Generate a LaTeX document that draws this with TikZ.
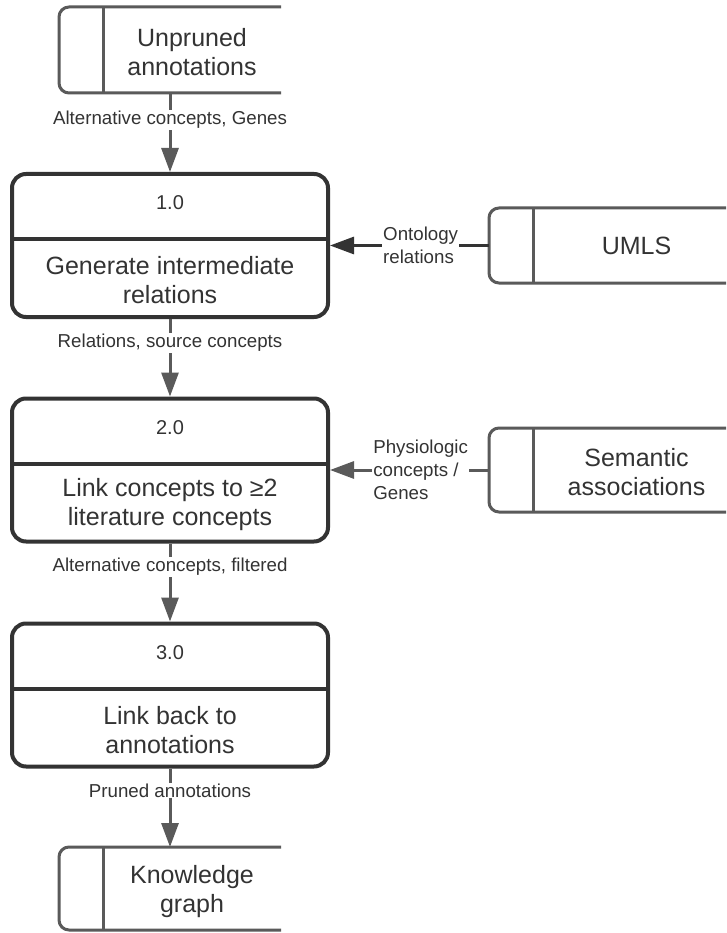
\documentclass[tikz,border=0pt]{standalone}
\usepackage{fontspec}
\setmainfont{Liberation Sans}
\usetikzlibrary{arrows.meta,calc}

\definecolor{ink}{HTML}{333333}
\definecolor{wire}{HTML}{5A5A5A}

\tikzset{
  procbox/.style={draw=ink, line width=4pt, rounded corners=14pt, fill=white,
    minimum width=316pt, minimum height=143pt, inner sep=0pt},
  procdiv/.style={draw=ink, line width=4pt},
  storespot/.style={inner sep=0pt, outer sep=0pt, minimum width=#1},
  storeline/.style={draw=wire, line width=3pt, rounded corners=10pt},
  bigtext/.style={text=ink, align=center, inner sep=0pt,
    font=\fontsize{25}{29}\selectfont},
  numtext/.style={text=ink, inner sep=0pt, font=\fontsize{20}{24}\selectfont},
  flow/.style={draw=wire, line width=3pt,
    -{Triangle[length=24pt,width=17pt]}},
  flowdark/.style={flow, draw=ink},
  lab/.style={fill=white, text=ink, inner sep=1pt,
    font=\fontsize{18.7}{22}\selectfont},
  sidelab/.style={lab, align=left, font=\fontsize{18.7}{23}\selectfont},
}

% data store: open on the right, rounded on the left, with a side stripe
\newcommand\storeoutline[1]{%
  \draw[storeline] (#1.north east) -- (#1.north west) -- (#1.south west) -- (#1.south east);
  \draw[storeline] ($(#1.north west)+(44,0)$) -- ($(#1.south west)+(44,0)$);
}

\begin{document}
\begin{tikzpicture}[x=1pt,y=-1pt]
  \clip (0,0) rectangle (726,933);
  \fill[white] (0,0) rectangle (726,933);

  % external stores
  \node[storespot=222pt, minimum height=86pt] (src) at (170,50) {};
  \node[storespot=222pt, minimum height=83pt] (kg) at (170,888.5) {};
  \node[storespot=251pt, minimum height=75pt] (umls) at (614.5,245.5) {};
  \node[storespot=251pt, minimum height=84pt] (sem) at (614.5,470) {};
  \storeoutline{src}
  \storeoutline{kg}
  \storeoutline{umls}
  \storeoutline{sem}
  \node[bigtext] (srctxt) at ($(src.center)+(22,2)$) {Unpruned\\annotations};
  \node[bigtext] (kgtxt) at ($(kg.center)+(22,3)$) {Knowledge\\graph};
  \node[bigtext] (umlstxt) at ($(umls.center)+(22,0)$) {UMLS};
  \node[bigtext] (semtxt) at ($(sem.center)+(22,2.5)$) {Semantic\\associations};

  % processes
  \node[procbox] (p1) at (170,245.5) {};
  \node[procbox] (p2) at (170,470) {};
  \node[procbox] (p3) at (170,695) {};
  \foreach \p in {p1,p2,p3}
    \draw[procdiv] ($(\p.north west)+(0,67)$) -- ($(\p.north east)+(0,67)$);

  \node[numtext] (p1num) at ($(p1.north)+(0,31)$) {1.0};
  \node[numtext] (p2num) at ($(p2.north)+(0,31)$) {2.0};
  \node[numtext] (p3num) at ($(p3.north)+(0,31)$) {3.0};
  \node[bigtext] (p1txt) at ($(p1.north)+(0,108.5)$) {Generate intermediate\\relations};
  \node[bigtext] (p2txt) at ($(p2.north)+(0,108.5)$) {Link concepts to ≥2\\literature concepts};
  \node[bigtext] (p3txt) at ($(p3.north)+(0,108.5)$) {Link back to\\annotations};

  % data flows
  \draw[flow] (src.south) -- (p1.north)
    node[lab, pos=0.34] {Alternative concepts, Genes};
  \draw[flow] (p1.south) -- (p2.north)
    node[lab, pos=0.31] {Relations, source concepts};
  \draw[flow] (p2.south) -- (p3.north)
    node[lab, pos=0.30] {Alternative concepts, filtered};
  \draw[flow] (p3.south) -- (kg.north)
    node[lab, pos=0.28] {Pruned annotations};
  \draw[flowdark] (umls.west) -- (p1.east)
    node[sidelab, pos=0.43] {Ontology\\relations};
  \draw[flow] (sem.west) -- (p2.east)
    node[sidelab, pos=0.43] {Physiologic\\concepts /\\Genes};
\end{tikzpicture}
\end{document}
